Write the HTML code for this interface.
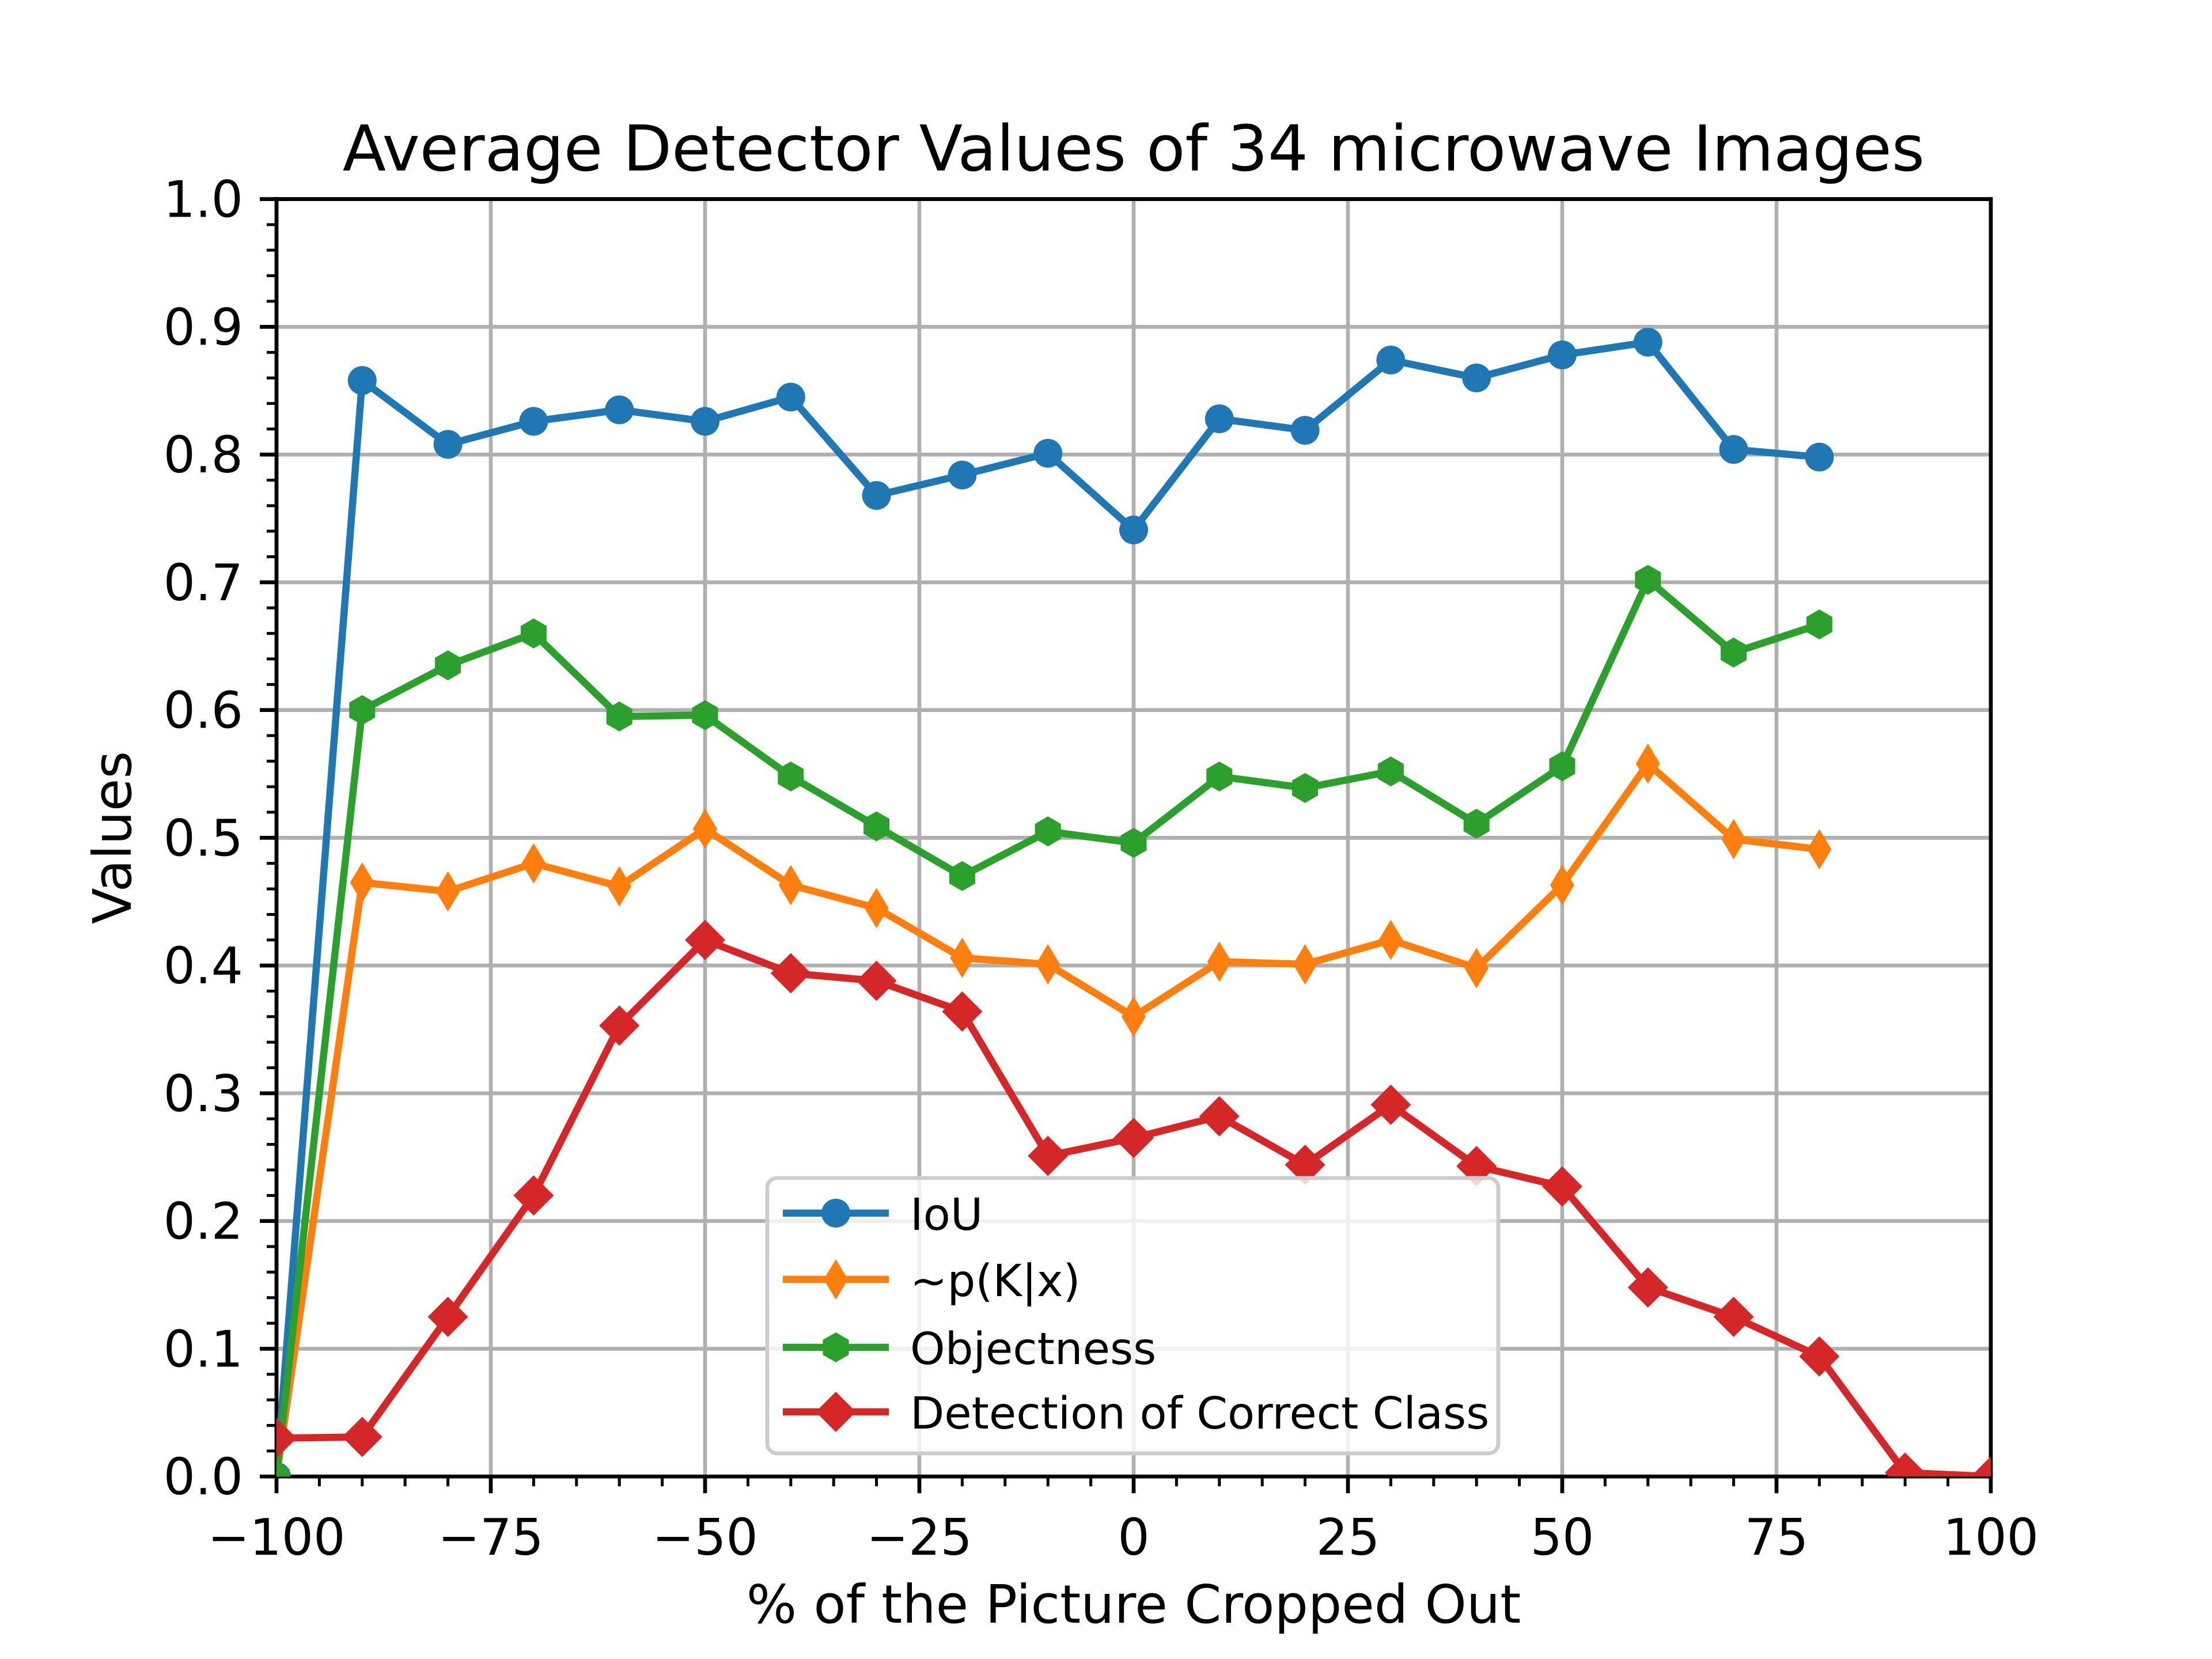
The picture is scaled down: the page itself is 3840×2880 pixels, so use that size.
<!DOCTYPE html>
<html><head><meta charset="utf-8"><style>
html,body{margin:0;padding:0;background:#fff;}
svg{display:block;font-family:"DejaVu Sans","Liberation Sans",sans-serif;}
</style></head><body>
<svg id="chart" width="3840" height="2880" viewBox="0 0 3840 2880">
<rect width="3840" height="2880" fill="#fff"/>
<g id="grid"></g><g id="axes"></g><g id="series"></g><g id="legend"></g>
</svg>
<script>
const xValues = [-100,-90,-80,-70,-60,-50,-40,-30,-20,-10,0,10,20,30,40,50,60,70,80];
const xValuesDet = [-100,-90,-80,-70,-60,-50,-40,-30,-20,-10,0,10,20,30,40,50,60,70,80,90,100];
const iouValues = [0.0,0.858,0.808,0.826,0.835,0.826,0.845,0.768,0.784,0.801,0.741,0.828,0.819,0.874,0.860,0.878,0.888,0.804,0.798];
const pkxValues = [0.0,0.465,0.458,0.480,0.462,0.507,0.463,0.445,0.406,0.401,0.360,0.403,0.401,0.420,0.398,0.463,0.558,0.499,0.491];
const objValues = [0.0,0.600,0.635,0.660,0.595,0.596,0.548,0.509,0.470,0.505,0.496,0.548,0.539,0.552,0.511,0.556,0.702,0.645,0.667];
const detValues = [0.030,0.031,0.125,0.220,0.353,0.420,0.394,0.388,0.364,0.251,0.265,0.282,0.244,0.291,0.243,0.227,0.148,0.125,0.094,0.003,0.0];
const xTicks = [-100,-75,-50,-25,0,25,50,75,100];
const xTickLabels = ["\u2212100","\u221275","\u221250","\u221225","0","25","50","75","100"];
const yTicks = [0,0.1,0.2,0.3,0.4,0.5,0.6,0.7,0.8,0.9,1.0];
const yTickLabels = ["0.0","0.1","0.2","0.3","0.4","0.5","0.6","0.7","0.8","0.9","1.0"];
const seriesNames = ["IoU","~p(K|x)","Objectness","Detection of Correct Class"];

const L=480,R=3456,T=345.6,B=2563.2;
const NS="http://www.w3.org/2000/svg";
function sx(v){return L+(v+100)/200*(R-L);}
function sy(v){return B-v*(B-T);}
function mk(tag,attrs,parent){const e=document.createElementNS(NS,tag);for(const k in attrs)e.setAttribute(k,attrs[k]);parent.appendChild(e);return e;}
const svg=document.getElementById('chart');
const grid=document.getElementById('grid'),axes=document.getElementById('axes'),ser=document.getElementById('series'),leg=document.getElementById('legend');

xTicks.forEach(v=>{const g=mk('line',{x1:sx(v),x2:sx(v),y1:T,y2:B,stroke:'#b0b0b0','stroke-width':6.7},grid);

});
yTicks.forEach(v=>{const g=mk('line',{x1:L,x2:R,y1:sy(v),y2:sy(v),stroke:'#b0b0b0','stroke-width':6.7},grid);

});

for(let v=-100;v<=100;v+=5){const major=(v%25===0);
const t=mk('line',{x1:sx(v),x2:sx(v),y1:B,y2:B+(major?29:17),stroke:'#000','stroke-width':major?6.7:5},axes);

}
for(let i=0;i<=50;i++){const v=i*0.02;const major=(i%5===0);
const t=mk('line',{x1:L,x2:L-(major?29:17),y1:sy(v),y2:sy(v),stroke:'#000','stroke-width':major?6.7:5},axes);

}
xTicks.forEach((v,i)=>{const t=mk('text',{x:sx(v),y:B+29+35+72,'font-size':87,'text-anchor':'middle',fill:'#000'},axes);t.textContent=xTickLabels[i];

});
yTicks.forEach((v,i)=>{const t=mk('text',{x:L-29-29,y:sy(v)+31,'font-size':87,'text-anchor':'end',fill:'#000'},axes);t.textContent=yTickLabels[i];

});

function pts(xs,ys){return xs.map((x,i)=>[sx(x),sy(ys[i])]);}
function marker(type,x,y,color,parent){
 let e;
 if(type==='o'){e=mk('circle',{cx:x,cy:y,r:25,fill:color},parent);}
 else if(type==='d'){e=mk('polygon',{points:`${x},${y-35} ${x+21},${y} ${x},${y+35} ${x-21},${y}`,fill:color},parent);}
 else if(type==='h'){let p=[];for(let k=0;k<6;k++){const a=Math.PI/2+k*Math.PI/3;p.push((x+26*Math.cos(a))+','+(y-26*Math.sin(a)));}e=mk('polygon',{points:p.join(' '),fill:color},parent);}
 else {e=mk('polygon',{points:`${x},${y-35} ${x+35},${y} ${x},${y+35} ${x-35},${y}`,fill:color},parent);}
 return e;}
const defs=[[xValues,iouValues,'#1f77b4','o'],[xValues,pkxValues,'#ff7f0e','d'],[xValues,objValues,'#2ca02c','h'],[xValuesDet,detValues,'#d62728','D']];
const clip=mk('clipPath',{id:'plotclip'},svg);mk('rect',{x:L,y:T,width:R-L,height:B-T},clip);
defs.forEach((d,si)=>{
 const g=mk('g',{'clip-path':'url(#plotclip)'},ser);
 
 
 const p=pts(d[0],d[1]);
 const line=mk('polyline',{points:p.map(q=>q.join(',')).join(' '),fill:'none',stroke:d[2],'stroke-width':12.5,'stroke-linejoin':'round'},g);
 
 
 p.forEach(q=>{const m=marker(d[3],q[0],q[1],d[2],g);
 
 });
});

[[L,T,L,B],[R,T,R,B],[L,T,R,T],[L,B,R,B]].forEach(s=>{const e=mk('line',{x1:s[0],y1:s[1],x2:s[2],y2:s[3],stroke:'#000','stroke-width':6.7,'stroke-linecap':'square'},axes);

});

const lb=mk('rect',{x:1332,y:2045,width:1269,height:478,rx:17,fill:'#fff','fill-opacity':0.8,stroke:'#cccccc','stroke-width':6.7},leg);


const ly=[2106,2221,2339,2451];
defs.forEach((d,i)=>{
 const g=mk('g',{},leg);
 
 
 mk('line',{x1:1359,x2:1543,y1:ly[i],y2:ly[i],stroke:d[2],'stroke-width':12.5},g);
 marker(d[3],1451,ly[i],d[2],g);
 const t=mk('text',{x:1580,y:ly[i]+29,'font-size':77,fill:'#000'},g);t.textContent=seriesNames[i];
});
</script>
<div style="position:absolute;left:0;top:0;width:3840px;height:2880px;pointer-events:none;font-family:'DejaVu Sans','Liberation Sans',sans-serif;">
<div style="position:absolute;left:1968px;transform:translateX(-50%);top:198px;white-space:nowrap;font-size:110px;line-height:120px;color:#000;">Average Detector Values of 34 microwave Images</div>
<div style="position:absolute;left:1968px;transform:translateX(-50%);top:2736px;font-size:92px;line-height:100px;white-space:nowrap;color:#000;">% of the Picture Cropped Out</div>
<div style="position:absolute;left:196px;top:1454px;transform:translate(-50%,-50%) rotate(-90deg);font-size:92px;line-height:100px;white-space:nowrap;color:#000;">Values</div>
</div>
</body></html>
